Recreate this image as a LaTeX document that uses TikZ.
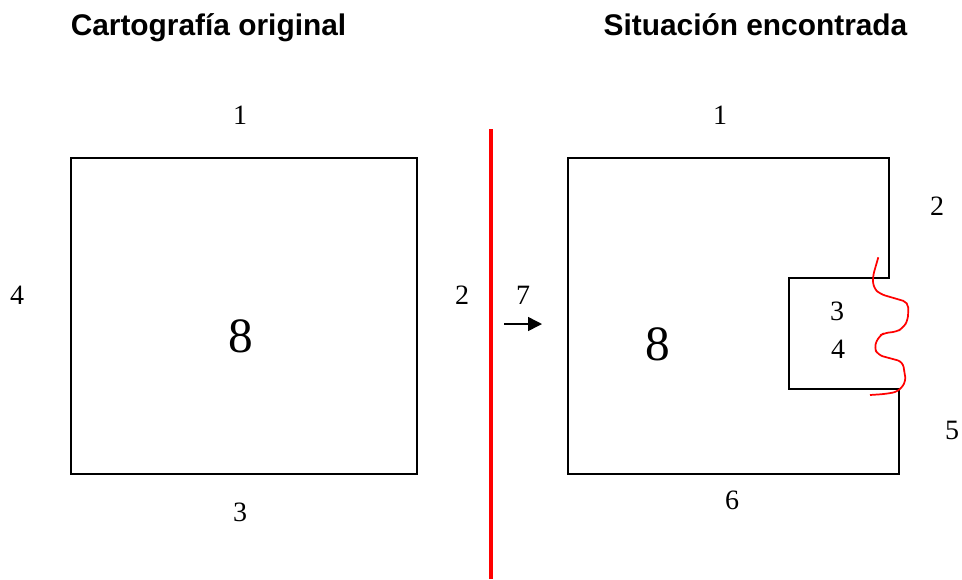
\documentclass[tikz,border=0pt]{standalone}
\usepackage{fontspec}
\setmainfont{Liberation Serif}
\newfontfamily\titlefont{Liberation Sans}
\usetikzlibrary{arrows.meta, positioning}

\begin{document}
\begin{tikzpicture}[
    x=0.75pt, y=-0.75pt,
    title/.style={font=\titlefont\bfseries\fontsize{22.4}{26}\selectfont, inner sep=0pt, anchor=base},
    edgenum/.style={font=\fontsize{21}{25}\selectfont, inner sep=0pt},
    areanum/.style={font=\fontsize{37}{42}\selectfont, inner sep=0pt},
    parcel/.style={draw, line width=1.2pt},
    divider/.style={draw=red, line width=3.6pt},
    sketch/.style={draw=red, line width=1.3pt, rounded corners=4pt},
    arrow/.style={-{Triangle[length=10.5pt, width=10.5pt]}, line width=1.1pt}
]
\useasboundingbox (0,0) rectangle (962,579);

% Titles
\node[title] at (208.5,35) (titleleft) {Cartografía original};
\node[title] at (755.5,35) (titleright) {Situación encontrada};

% Original parcel
\node[parcel, minimum width=346*0.75pt, minimum height=316*0.75pt, anchor=north west, inner sep=0pt, outer sep=0pt] at (71,158) (original) {};
\node[edgenum] at (240,115) (origone) {1};
\node[edgenum] at (462,295) (origtwo) {2};
\node[edgenum] at (240,512) (origthree) {3};
\node[edgenum] at (17,295) (origfour) {4};
\node[areanum] at (241,336) (origeight) {8};

% Divider
\coordinate (dividertop) at (491,129);
\coordinate (dividerbottom) at (491,579);
\draw[divider] (dividertop) -- (dividerbottom);

% Arrow
\coordinate (arrowstart) at (504,324);
\coordinate (arrowend) at (542,324);
\node[edgenum] at (523,295) (arrownum) {7};
\draw[arrow] (arrowstart) -- (arrowend);

% Parcel found
\draw[parcel] (568,158) -- (889,158) -- (889,278) -- (789,278) -- (789,389)
    -- (899,389) -- (899,474) -- (568,474) -- cycle;
\node[edgenum] at (720,115) (foundone) {1};
\node[edgenum] at (937,206) (foundtwo) {2};
\node[edgenum] at (837,311) (foundthree) {3};
\node[edgenum] at (838,349) (foundfour) {4};
\node[edgenum] at (952,430) (foundfive) {5};
\node[edgenum] at (732,500) (foundsix) {6};
\node[areanum] at (658,344) (foundeight) {8};

% Red sketch line
\draw[sketch] (878.3,257.3) -- (872.7,276.7) -- (873.5,288) -- (880,294) -- (908.3,302.3)
    -- (908,320) -- (903,328) -- (896,332) -- (885,332.7) -- (879,336) -- (874,347.3)
    -- (878,355) -- (902.7,361.7) -- (906,381.7) -- (898,391.7) -- (885,394) -- (870,395);

\end{tikzpicture}
\end{document}
